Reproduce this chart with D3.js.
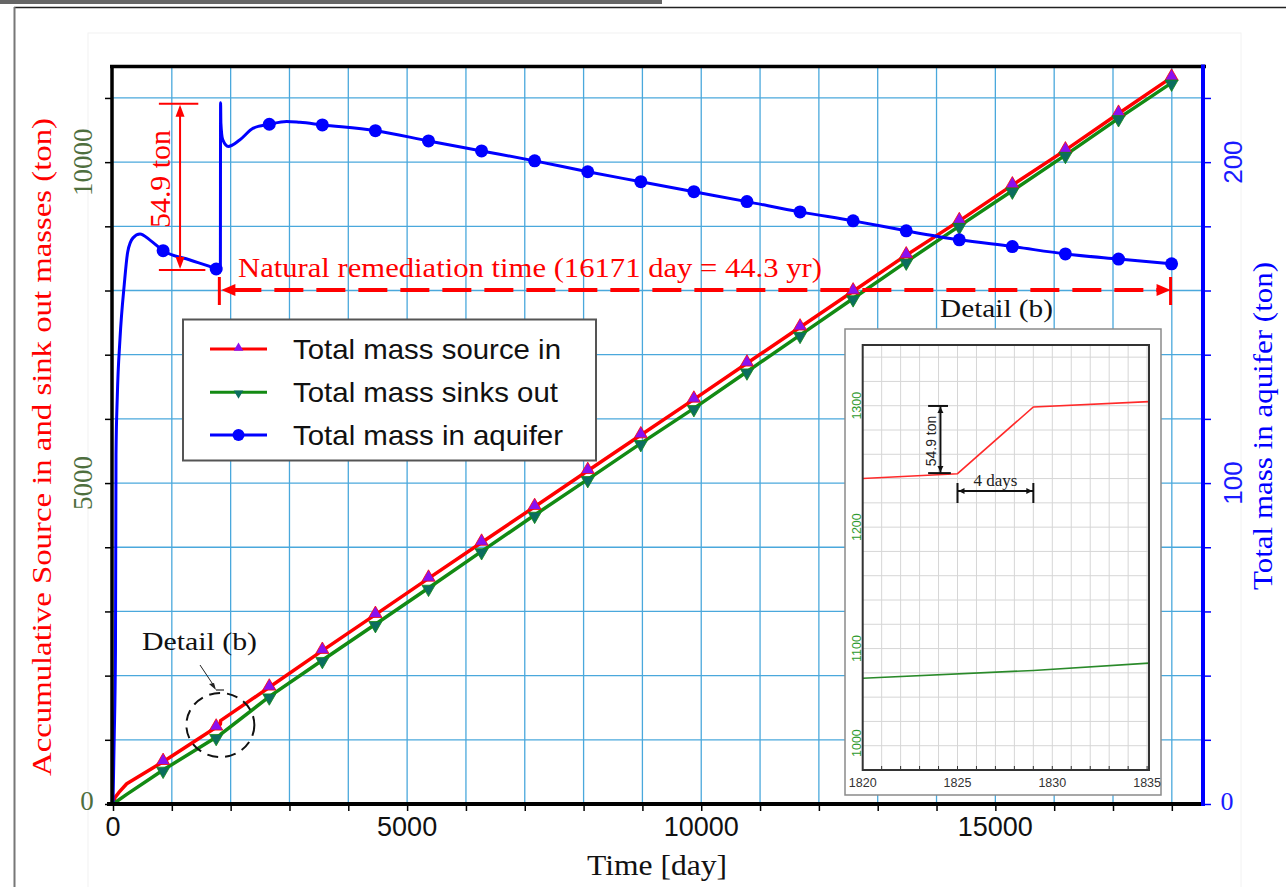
<!DOCTYPE html>
<html>
<head>
<meta charset="utf-8">
<script src="https://cdn.jsdelivr.net/npm/d3@7"></script>
<style>
  body { margin: 0; background: #fff; }
  svg { display: block; }
</style>
</head>
<body>
<svg id="chart" width="1286" height="887"></svg>
<script>
// Chart data
const markerDays = [852, 1754, 2657, 3559, 4461, 5364, 6266, 7168, 8071, 8973, 9875, 10777, 11680, 12582, 13485, 14387, 15289, 16191, 17094, 17996];

const sourceDays = [0, 30, 100, 233, 852, 1754, 1820, 1825, 1829, 1835.1, 2657, 3559, 4461, 5364, 6266, 7168, 8071, 8973, 9875, 10777, 11680, 12582, 13485, 14387, 15289, 16191, 17094, 17996];
const sourceIn = [0, 95, 180, 315, 659, 1195, 1240, 1244, 1299, 1303.4, 1818, 2390, 2950, 3515, 4075, 4631, 5192, 5748, 6304, 6866, 7428, 7989, 8551, 9085, 9642, 10187, 10758, 11320];

const sinkDays = [0, 233, 852, 1754, 1820, 1829, 1835.1, 2657, 3559, 4461, 5364, 6266, 7168, 8071, 8973, 9875, 10777, 11680, 12582, 13485, 14387, 15289, 16191, 17094, 17996];
const sinkOut = [0, 150, 530, 1040, 1075.5, 1082, 1088, 1672, 2240, 2800, 3365, 3935, 4502, 5058, 5619, 6164, 6735, 7305, 7875, 8447, 9003, 9553, 10109, 10681, 11235];

const aquiferDays = [0, 20, 42, 51, 73, 119, 192, 250, 340, 459, 629, 852, 1309, 1754, 1825, 1829, 1834, 1865, 1960, 2159, 2385, 2657, 2953, 3178, 3559, 4461, 5364, 6266, 7168, 8071, 8973, 9875, 10777, 11680, 12582, 13485, 14387, 15289, 16191, 17094, 17996];
const aquiferMass = [0, 20, 48, 109, 127, 145, 162, 172, 176.4, 177.6, 175.7, 172.4, 169.5, 166.7, 166.1, 218.5, 212.2, 207, 204.9, 207, 210.6, 211.8, 212.7, 212.4, 211.6, 209.8, 206.6, 203.5, 200.4, 197.0, 193.9, 190.8, 187.7, 184.5, 181.7, 178.6, 175.8, 173.7, 171.4, 169.8, 168.3];

const seriesNames = ["Total mass source in", "Total mass sinks out", "Total mass in aquifer"];
const xTicks = [0, 5000, 10000, 15000];
const leftTicks = [0, 5000, 10000];
const rightTicks = [0, 100, 200];
const insetXTicks = [1820, 1825, 1830, 1835];
const insetYTicks = [1000, 1100, 1200, 1300];

const jumpStart = 1825, jumpEnd = 1829, remediationEnd = 17996;

const serif = "'Liberation Serif', 'Times New Roman', serif";
const sans = "'Liberation Sans', Arial, sans-serif";
const gridBlue = "#4aa8dc";

const svg = d3.select("#chart");

// Scales
const x = d3.scaleLinear().domain([0, 18530]).range([113, 1203]);
const yL = d3.scaleLinear().domain([0, 11490]).range([804, 66.5]);
const yR = d3.scaleLinear().domain([0, 229.8]).range([804, 66.5]);

// Page frame
svg.append("rect").attr("x", 0).attr("y", 0).attr("width", 662).attr("height", 4).attr("fill", "#666");
svg.append("line").attr("x1", 14).attr("x2", 1286).attr("y1", 7.5).attr("y2", 7.5).attr("stroke", "#222").attr("stroke-width", 1.5);
svg.append("line").attr("x1", 14.5).attr("x2", 14.5).attr("y1", 7).attr("y2", 887).attr("stroke", "#777").attr("stroke-width", 2);
svg.append("rect").attr("x", 88).attr("y", 33).attr("width", 1153).attr("height", 860)
  .attr("fill", "none").attr("stroke", "#f2f2f2");

// Grid
const grid = svg.append("g");
grid.selectAll(".gx").data(d3.range(1000, 18001, 1000)).join("line")
  .attr("x1", d => x(d)).attr("x2", d => x(d)).attr("y1", yL.range()[1]).attr("y2", yL.range()[0])
  .attr("stroke", gridBlue).attr("stroke-width", 1.3);
grid.selectAll(".gy").data(d3.range(1000, 11001, 1000)).join("line")
  .attr("x1", x.range()[0]).attr("x2", x.range()[1]).attr("y1", d => yL(d)).attr("y2", d => yL(d))
  .attr("stroke", gridBlue).attr("stroke-width", 1.3);

// Axes ticks
svg.append("g").attr("transform", `translate(0,${yL(0)})`)
  .call(d3.axisBottom(x).tickValues(d3.range(0, 18001, 1000)).tickSize(7).tickFormat(""))
  .call(g => g.select(".domain").remove())
  .call(g => g.selectAll("line").attr("stroke", "#000").attr("stroke-width", 1.5));
svg.append("g").attr("transform", `translate(${x(0)},0)`)
  .call(d3.axisLeft(yL).tickValues(d3.range(0, 11001, 1000)).tickSize(8).tickFormat(""))
  .call(g => g.select(".domain").remove())
  .call(g => g.selectAll("line").attr("stroke", "#000").attr("stroke-width", 1.5));
svg.append("g").attr("transform", `translate(${x.range()[1]},0)`)
  .call(d3.axisRight(yR).tickValues(d3.range(0, 221, 20)).tickSize(8).tickFormat(""))
  .call(g => g.select(".domain").remove())
  .call(g => g.selectAll("line").attr("stroke", "#0000ff").attr("stroke-width", 1.5));

// Tick labels
svg.selectAll(".xl").data(xTicks).join("text")
  .attr("x", d => x(d)).attr("y", 836).attr("text-anchor", "middle")
  .attr("font-family", sans).attr("font-size", 27).attr("fill", "#111").text(d => d);
svg.selectAll(".ll").data(leftTicks).join("text")
  .attr("transform", d => d === 0 ? `translate(87,810)` : `translate(92,${yL(d)}) rotate(-90)`)
  .attr("text-anchor", "middle").attr("font-family", serif).attr("font-size", 27)
  .attr("fill", "#4e6e3e").text(d => d);
svg.selectAll(".rl").data(rightTicks).join("text")
  .attr("transform", d => d === 0 ? `translate(1227,810)` : `translate(1242,${yR(d)}) rotate(-90)`)
  .attr("text-anchor", "middle").attr("font-family", d => d === 0 ? serif : sans).attr("font-size", 26)
  .attr("fill", "#1a1aff").text(d => d);

// Axis titles
svg.append("text").attr("transform", "translate(51,447) rotate(-90)").attr("text-anchor", "middle")
  .attr("font-family", serif).attr("font-size", 28).attr("fill", "#ff0000")
  .attr("textLength", 658).attr("lengthAdjust", "spacingAndGlyphs")
  .text("Accumulative Source in and sink out masses (ton)");
svg.append("text").attr("transform", "translate(1272,426) rotate(-90)").attr("text-anchor", "middle")
  .attr("font-family", serif).attr("font-size", 27).attr("fill", "#0000ff")
  .attr("textLength", 328).attr("lengthAdjust", "spacingAndGlyphs")
  .text("Total mass in aquifer (ton)");
svg.append("text").attr("x", 657).attr("y", 875).attr("text-anchor", "middle")
  .attr("font-family", serif).attr("font-size", 30).attr("fill", "#111")
  .attr("textLength", 140).attr("lengthAdjust", "spacingAndGlyphs").text("Time [day]");

// Series lines
const sourceData = sourceDays.map((d, i) => ({ day: d, value: sourceIn[i] }));
const sinkData = sinkDays.map((d, i) => ({ day: d, value: sinkOut[i] }));
const aquiferData = aquiferDays.map((d, i) => ({ day: d, value: aquiferMass[i] }));

const lineL = d3.line().x(d => x(d.day)).y(d => yL(d.value));
const lineR = d3.line().x(d => x(d.day)).y(d => yR(d.value)).curve(d3.curveMonotoneX);

svg.append("path").datum(sourceData).attr("d", lineL).attr("fill", "none").attr("stroke", "#ff0000").attr("stroke-width", 3.5).attr("stroke-linejoin", "round");
svg.append("path").datum(sinkData).attr("d", lineL).attr("fill", "none").attr("stroke", "#138a13").attr("stroke-width", 3.5);
svg.append("path").datum(aquiferData).attr("d", lineR).attr("fill", "none").attr("stroke", "#0000ff").attr("stroke-width", 3);

// Markers
const triUp = d3.symbol().type(d3.symbolTriangle).size(75);
svg.selectAll(".mSrc").data(sourceData.filter(d => markerDays.includes(d.day))).join("path")
  .attr("d", triUp).attr("transform", d => `translate(${x(d.day)},${yL(d.value) - 1})`)
  .attr("fill", "#8a10f0").attr("stroke", "#ff0000").attr("stroke-width", 0.8);
svg.selectAll(".mSnk").data(sinkData.filter(d => markerDays.includes(d.day))).join("path")
  .attr("d", triUp).attr("transform", d => `translate(${x(d.day)},${yL(d.value) + 1}) rotate(180)`)
  .attr("fill", "#0b6e5e").attr("stroke", "#138a13").attr("stroke-width", 0.8);
svg.selectAll(".mAq").data(aquiferData.filter(d => markerDays.includes(d.day))).join("circle")
  .attr("cx", d => x(d.day)).attr("cy", d => yR(d.value)).attr("r", 6.5).attr("fill", "#0000ff");

// Arrowhead helper
function arrowHead(g, tipX, tipY, dir, len, half, color) {
  const pts = {
    up: [[tipX, tipY], [tipX - half, tipY + len], [tipX + half, tipY + len]],
    down: [[tipX, tipY], [tipX - half, tipY - len], [tipX + half, tipY - len]],
    left: [[tipX, tipY], [tipX + len, tipY - half], [tipX + len, tipY + half]],
    right: [[tipX, tipY], [tipX - len, tipY - half], [tipX - len, tipY + half]]
  }[dir];
  g.append("path").attr("d", "M" + pts.join("L") + "Z").attr("fill", color);
}

// 54.9 ton annotation on main chart
const ann = svg.append("g");
const dimX = x(1140), topY = yR(218.2), botY = yR(166.4);
ann.append("line").attr("x1", dimX).attr("x2", dimX).attr("y1", topY + 4).attr("y2", botY - 4).attr("stroke", "#ff0000").attr("stroke-width", 2);
ann.append("line").attr("x1", x(780)).attr("x2", x(1450)).attr("y1", topY).attr("y2", topY).attr("stroke", "#ff0000").attr("stroke-width", 2);
ann.append("line").attr("x1", x(780)).attr("x2", x(1570)).attr("y1", botY).attr("y2", botY).attr("stroke", "#ff0000").attr("stroke-width", 2);
arrowHead(ann, dimX, topY + 1, "up", 12, 4.5, "#ff0000");
arrowHead(ann, dimX, botY - 1, "down", 12, 4.5, "#ff0000");
ann.append("text").attr("transform", `translate(170,179) rotate(-90)`).attr("text-anchor", "middle")
  .attr("font-family", serif).attr("font-size", 29).attr("fill", "#ff0000")
  .attr("textLength", 98).attr("lengthAdjust", "spacingAndGlyphs").text("54.9 ton");

// Natural remediation time
const remY = 290;
ann.append("text").attr("x", 238).attr("y", 277).attr("font-family", serif).attr("font-size", 27)
  .attr("fill", "#ff0000").attr("textLength", 584).attr("lengthAdjust", "spacingAndGlyphs")
  .text("Natural remediation time (16171 day = 44.3 yr)");
ann.append("line").attr("x1", x(jumpStart) + 12).attr("x2", x(remediationEnd) - 12).attr("y1", remY).attr("y2", remY)
  .attr("stroke", "#ff0000").attr("stroke-width", 4).attr("stroke-dasharray", "29,13");
arrowHead(ann, x(jumpStart) + 1, remY, "left", 14, 6, "#ff0000");
arrowHead(ann, x(remediationEnd) - 1, remY, "right", 14, 6, "#ff0000");
[jumpStart, remediationEnd].forEach(d => {
  ann.append("line").attr("x1", x(d) - 1).attr("x2", x(d) - 1).attr("y1", 277).attr("y2", 305)
    .attr("stroke", "#ff0000").attr("stroke-width", 3);
});

// Detail (b) callout near origin
ann.append("text").attr("x", 142).attr("y", 650).attr("font-family", serif).attr("font-size", 25)
  .attr("fill", "#111").attr("textLength", 115).attr("lengthAdjust", "spacingAndGlyphs").text("Detail (b)");
ann.append("line").attr("x1", 200).attr("y1", 665).attr("x2", 214).attr("y2", 686).attr("stroke", "#222").attr("stroke-width", 1);
ann.append("path").attr("d", "M216,690 L209,684 L214,683 Z").attr("fill", "#222");
ann.append("line").attr("x1", 216).attr("y1", 690).attr("x2", 224).attr("y2", 690).attr("stroke", "#222").attr("stroke-width", 1.2);
ann.append("ellipse").attr("cx", x(1825)).attr("cy", 725).attr("rx", 34).attr("ry", 32)
  .attr("fill", "none").attr("stroke", "#111").attr("stroke-width", 2).attr("stroke-dasharray", "11,7");

// Legend
const legend = svg.append("g");
legend.append("rect").attr("x", 183).attr("y", 319.5).attr("width", 413).attr("height", 141)
  .attr("fill", "#fff").attr("stroke", "#555").attr("stroke-width", 2);
const legendColors = ["#ff0000", "#138a13", "#0000ff"];
const legendRows = [349, 392.3, 435];
const legendWidths = [268, 265, 270];
seriesNames.forEach((name, i) => {
  const yy = legendRows[i];
  legend.append("line").attr("x1", 210).attr("x2", 267).attr("y1", yy).attr("y2", yy)
    .attr("stroke", legendColors[i]).attr("stroke-width", 3);
  if (i === 0) legend.append("path").attr("d", d3.symbol().type(d3.symbolTriangle).size(40))
    .attr("transform", `translate(238.5,${yy - 1})`).attr("fill", "#8a10f0");
  if (i === 1) legend.append("path").attr("d", d3.symbol().type(d3.symbolTriangle).size(40))
    .attr("transform", `translate(238.5,${yy + 1}) rotate(180)`).attr("fill", "#0b6e5e");
  if (i === 2) legend.append("circle").attr("cx", 238.5).attr("cy", yy).attr("r", 6).attr("fill", "#0000ff");
  legend.append("text").attr("x", 293).attr("y", yy + 10).attr("font-family", sans).attr("font-size", 28)
    .attr("fill", "#111").attr("textLength", legendWidths[i]).attr("lengthAdjust", "spacingAndGlyphs").text(name);
});

// Plot frame
svg.append("line").attr("x1", 110).attr("x2", 1206).attr("y1", 66.5).attr("y2", 66.5).attr("stroke", "#000").attr("stroke-width", 3.5);
svg.append("line").attr("x1", 112).attr("x2", 112).attr("y1", 65).attr("y2", 806).attr("stroke", "#000").attr("stroke-width", 3.5);
svg.append("line").attr("x1", 107).attr("x2", 1203).attr("y1", 804).attr("y2", 804).attr("stroke", "#000").attr("stroke-width", 4);
svg.append("line").attr("x1", 1203).attr("x2", 1203).attr("y1", 64.5).attr("y2", 806).attr("stroke", "#0000ff").attr("stroke-width", 4);

// Detail (b) label above inset
svg.append("text").attr("x", 940).attr("y", 317).attr("font-family", serif).attr("font-size", 25)
  .attr("fill", "#111").attr("textLength", 113).attr("lengthAdjust", "spacingAndGlyphs").text("Detail (b)");

// Inset: detail around the source jump
const ix = d3.scaleLinear().domain([1820, 1835.1]).range([862.7, 1149]);
const iy = d3.scaleLinear().domain([1000, 1350]).range([770, 345]);
const inset = svg.append("g");
inset.append("rect").attr("x", 845).attr("y", 329).attr("width", 316).attr("height", 466)
  .attr("fill", "#fff").attr("stroke", "#8a8a8a").attr("stroke-width", 1.5);
inset.selectAll(".igx").data(d3.range(1821, 1836, 1)).join("line")
  .attr("x1", d => ix(d)).attr("x2", d => ix(d)).attr("y1", iy.range()[1]).attr("y2", iy.range()[0])
  .attr("stroke", "#d6d6d6").attr("stroke-width", 1);
inset.selectAll(".igy").data(d3.range(1020, 1341, 20)).join("line")
  .attr("x1", ix.range()[0]).attr("x2", ix.range()[1]).attr("y1", d => iy(d)).attr("y2", d => iy(d))
  .attr("stroke", "#d6d6d6").attr("stroke-width", 1);
inset.selectAll(".itk").data(d3.range(1821, 1836, 1)).join("line")
  .attr("x1", d => ix(d)).attr("x2", d => ix(d)).attr("y1", iy.range()[0]).attr("y2", iy.range()[0] - 4)
  .attr("stroke", "#333").attr("stroke-width", 1);

svg.append("clipPath").attr("id", "insetClip").append("rect")
  .attr("x", ix.range()[0]).attr("y", iy.range()[1]).attr("width", ix.range()[1] - ix.range()[0]).attr("height", iy.range()[0] - iy.range()[1]);
const insetLine = d3.line().x(d => ix(d.day)).y(d => iy(d.value));
const insetLines = inset.append("g").attr("clip-path", "url(#insetClip)");
insetLines.append("path").datum(sourceData).attr("d", insetLine).attr("fill", "none").attr("stroke", "#ff2a2a").attr("stroke-width", 1.6);
insetLines.append("path").datum(sinkData).attr("d", insetLine).attr("fill", "none").attr("stroke", "#2a8a2a").attr("stroke-width", 1.6);

inset.append("rect").attr("x", ix.range()[0]).attr("y", iy.range()[1])
  .attr("width", ix.range()[1] - ix.range()[0]).attr("height", iy.range()[0] - iy.range()[1])
  .attr("fill", "none").attr("stroke", "#333").attr("stroke-width", 2);

inset.selectAll(".ixl").data(insetXTicks).join("text")
  .attr("x", d => ix(d)).attr("y", 787).attr("text-anchor", "middle")
  .attr("font-family", sans).attr("font-size", 12.5).attr("fill", "#333").text(d => d);
inset.selectAll(".iyl").data(insetYTicks).join("text")
  .attr("transform", d => d === 1000 ? `translate(860.5,${iy(d) - 13}) rotate(-90)` : `translate(860.5,${iy(d)}) rotate(-90)`)
  .attr("text-anchor", d => d === 1000 ? "start" : "middle")
  .attr("font-family", sans).attr("font-size", 12.5).attr("fill", "#2e9a2e").text(d => d);

// Inset annotations
const iDimX = ix(1824.1);
inset.append("line").attr("x1", iDimX).attr("x2", iDimX).attr("y1", iy(1299.8)).attr("y2", iy(1244.5)).attr("stroke", "#111").attr("stroke-width", 2);
inset.append("line").attr("x1", ix(1823.45)).attr("x2", ix(1824.5)).attr("y1", iy(1299.8)).attr("y2", iy(1299.8)).attr("stroke", "#111").attr("stroke-width", 2);
inset.append("line").attr("x1", ix(1823.45)).attr("x2", ix(1824.65)).attr("y1", iy(1244.5)).attr("y2", iy(1244.5)).attr("stroke", "#111").attr("stroke-width", 2);
arrowHead(inset, iDimX, iy(1299.8) + 1, "up", 6, 3, "#111");
arrowHead(inset, iDimX, iy(1244.5) - 1, "down", 6, 3, "#111");
inset.append("text").attr("transform", `translate(936,441) rotate(-90)`).attr("text-anchor", "middle")
  .attr("font-family", sans).attr("font-size", 14).attr("fill", "#222").text("54.9 ton");

const daysY = 491;
inset.append("line").attr("x1", ix(jumpStart)).attr("x2", ix(jumpEnd)).attr("y1", daysY).attr("y2", daysY).attr("stroke", "#111").attr("stroke-width", 2);
[jumpStart, jumpEnd].forEach(d => {
  inset.append("line").attr("x1", ix(d)).attr("x2", ix(d)).attr("y1", 483).attr("y2", 503).attr("stroke", "#111").attr("stroke-width", 2);
});
arrowHead(inset, ix(jumpStart) + 1, daysY, "left", 6, 3, "#111");
arrowHead(inset, ix(jumpEnd) - 1, daysY, "right", 6, 3, "#111");
inset.append("text").attr("x", (ix(jumpStart) + ix(jumpEnd)) / 2).attr("y", 485.5).attr("text-anchor", "middle")
  .attr("font-family", serif).attr("font-size", 17).attr("fill", "#222").text("4 days");
</script>
</body>
</html>
